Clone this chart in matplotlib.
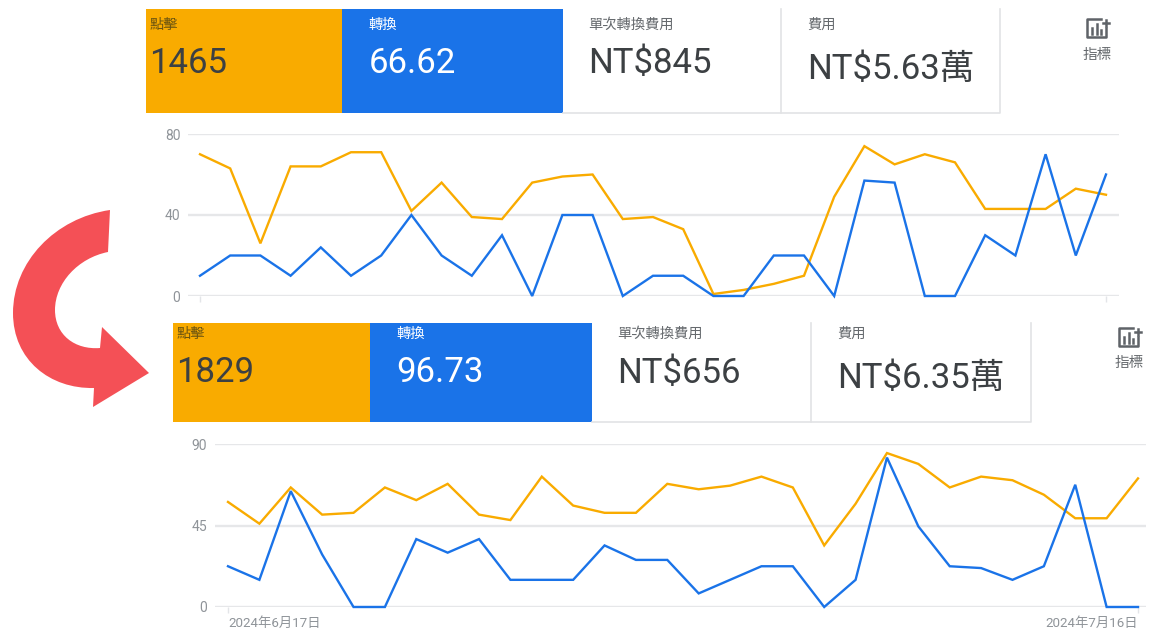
import matplotlib
matplotlib.use('Agg')
import matplotlib.pyplot as plt
from matplotlib.patches import Rectangle, PathPatch
from matplotlib.path import Path

plt.rcParams['font.family'] = ['Roboto', 'Noto Sans CJK TC', 'DejaVu Sans']

W, H = 1168, 639
ORANGE = '#F9AB00'
BLUE = '#1A73E8'

card_labels = ['點擊', '轉換', '單次轉換費用', '費用']
top_card_values = ['1465', '66.62', 'NT$845', 'NT$5.63萬']
bottom_card_values = ['1829', '96.73', 'NT$656', 'NT$6.35萬']
icon_label = '指標'

top_clicks = [70, 63, 26, 64, 64, 71, 71, 42, 56, 39, 38, 56, 59, 60, 38, 39,
              33, 1, 3, 6, 10, 49, 74, 65, 70, 66, 43, 43, 43, 53, 50]
top_conversions = [10, 20, 20, 10, 24, 10, 20, 40, 20, 10, 30, 0, 40, 40, 0, 10,
                   10, 0, 0, 20, 20, 0, 57, 56, 0, 0, 30, 20, 70, 20, 60]
top_yticks = [0, 40, 80]

bottom_clicks = [58, 46, 66, 51, 52, 66, 59, 68, 51, 48, 72, 56, 52, 52, 68,
                 65, 67, 72, 66, 34, 57, 85, 79, 66, 72, 70, 62, 49, 49, 71]
bottom_conversions = [22.5, 15, 64, 29, 0, 0, 37.5, 30, 37.5, 15, 15, 15, 34, 26, 26,
                      7.5, 15, 22.5, 22.5, 0, 15, 82.5, 44.5, 22.5, 21.5, 15, 22.5, 67.5, 0, 0]
bottom_yticks = [0, 45, 90]
bottom_dates = ['2024年6月17日', '2024年7月16日']

fig = plt.figure(figsize=(W / 100, H / 100), dpi=100, facecolor='white')


# pixel box -> axes in figure fractions
def add_axes_px(left, top, right, bottom):
    return fig.add_axes([left / W, 1 - bottom / H, (right - left) / W, (bottom - top) / H])


overlay = add_axes_px(0, 0, W, H)
overlay.set_xlim(0, W)
overlay.set_ylim(H, 0)
overlay.axis('off')


def draw_cards(x0, x1, x2, x3, x4, top, bottom, values, label_dy, value_dy):
    ax = overlay
    # white cards only have a faint right/bottom edge
    border = '#e2e3e5'
    ax.plot([x2, x4, x4, ], [bottom, bottom, top], color=border, lw=1.2)
    ax.plot([x3, x3], [top, bottom], color=border, lw=1.2)
    ax.add_patch(Rectangle((x0, top), x1 - x0, bottom - top, fc=ORANGE, ec='none'))
    ax.add_patch(Rectangle((x1, top), x2 - x1, bottom - top, fc=BLUE, ec='none'))

    pads = [x0 + 3.5, x1 + 26.5, x2 + 25.5, x3 + 26]
    colors = ['#3c4043', 'white', '#3c4043', '#3c4043']
    label_colors = ['#6b5410', 'white', '#666a6e', '#666a6e']
    for i in range(4):
        ax.text(pads[i], top + label_dy, card_labels[i], fontsize=10.3, color=label_colors[i],
                ha='left', va='center')
        y = top + value_dy + (5.5 if i == 3 else 0)
        ax.text(pads[i], y, values[i], fontsize=25, color=colors[i], ha='left', va='baseline')


def draw_icon(x, y):
    # metric icon: open square, small bars and a plus
    c = '#5f6368'
    verts = [(x + 14, y), (x, y), (x, y + 18), (x + 19, y + 18), (x + 19, y + 9)]
    overlay.plot(*zip(*verts), color=c, lw=1.8, solid_joinstyle='round')
    overlay.plot([x + 5, x + 5], [y + 9, y + 15], color=c, lw=1.8)
    overlay.plot([x + 9.5, x + 9.5], [y + 5, y + 15], color=c, lw=1.8)
    overlay.plot([x + 14, x + 14], [y + 11, y + 15], color=c, lw=1.8)
    overlay.plot([x + 16, x + 22], [y + 4, y + 4], color=c, lw=1.8)
    overlay.plot([x + 19, x + 19], [y + 1, y + 7], color=c, lw=1.8)
    overlay.text(x + 10.5, y + 35.5, icon_label, fontsize=10.5, color='#666a6e', ha='center', va='center')


def draw_chart(left, right, data_left, data_right, top, bottom, clicks, conversions, yticks):
    ax = add_axes_px(left, top, right, bottom)
    n = len(clicks) - 1
    step = (data_right - data_left) / n
    ax.set_xlim(-(data_left - left) / step, n + (right - data_right) / step)
    ax.set_ylim(yticks[0], yticks[-1])
    ax.patch.set_alpha(0)
    for s in ax.spines.values():
        s.set_visible(False)
    ax.set_yticks(yticks)
    ax.tick_params(axis='y', length=0, pad=5.5, labelsize=10, labelcolor='#8f9499')
    ax.set_xticks([0, n])
    ax.set_xticklabels([])
    ax.tick_params(axis='x', length=4, width=1, color='#e3e5e8')
    ax.grid(axis='y', color='#e6e7e9', lw=1.7)
    ax.set_axisbelow(True)
    x = list(range(n + 1))
    ax.plot(x, clicks, color=ORANGE, lw=1.7, clip_on=False, solid_joinstyle='miter')
    ax.plot(x, conversions, color=BLUE, lw=1.7, clip_on=False, solid_joinstyle='miter')
    return ax


draw_cards(146, 342, 563, 781, 1000, 9, 112.5, top_card_values, 16, 64)
draw_cards(173, 370, 591.5, 811, 1031, 322.5, 422, bottom_card_values, 11.5, 60)
draw_icon(1087, 19)
draw_icon(1119, 328)

draw_chart(188, 1119, 200, 1106, 134, 296, top_clicks, top_conversions, top_yticks)
ax2 = draw_chart(215, 1146, 228, 1138, 444, 607, bottom_clicks, bottom_conversions, bottom_yticks)
ax2.text(0, -0.062, bottom_dates[0], transform=ax2.get_xaxis_transform(), fontsize=9.6, color='#8f9499',
         ha='left', va='top')
ax2.text(29, -0.062, bottom_dates[1], transform=ax2.get_xaxis_transform(), fontsize=9.6, color='#8f9499',
         ha='right', va='top')

# red curved arrow
arrow_pts = [(110, 210), (55, 218), (13, 262), (13, 313), (13, 360), (50, 389), (94, 388),
             (93, 407), (149, 373), (102, 327), (100, 348), (75, 350), (55, 335), (55, 310),
             (55, 283), (78, 258), (108, 252), (110, 210)]
arrow_codes = [Path.MOVETO, Path.CURVE4, Path.CURVE4, Path.CURVE4, Path.CURVE4, Path.CURVE4, Path.CURVE4,
               Path.LINETO, Path.LINETO, Path.LINETO, Path.LINETO, Path.CURVE4, Path.CURVE4, Path.CURVE4,
               Path.CURVE4, Path.CURVE4, Path.CURVE4, Path.CLOSEPOLY]
overlay.add_patch(PathPatch(Path(arrow_pts, arrow_codes), fc='#F45056', ec='none', zorder=5))

fig.savefig('out.png', dpi=100)
